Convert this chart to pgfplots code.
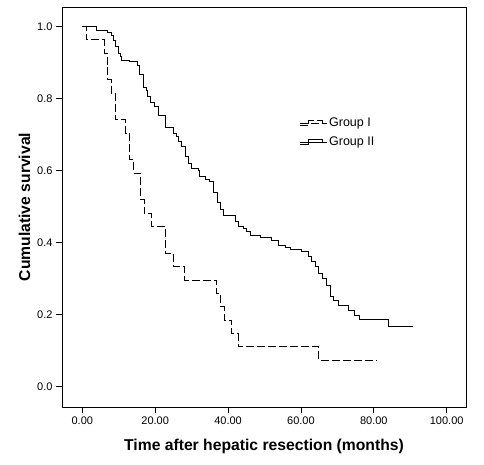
\documentclass[border=0pt]{standalone}
\usepackage{pgfplots}
\pgfplotsset{compat=1.18}
\usepackage{fontspec}
\setmainfont{Liberation Sans}
\begin{document}
\begin{tikzpicture}
\begin{axis}[
  scale only axis,
  width=404bp, height=400bp,
  xmin=-5.58, xmax=105.3,
  ymin=-0.056, ymax=1.054,
  axis line style={black, line width=0.8bp},
  xtick={0,20,40,60,80,100},
  ytick={0,0.2,0.4,0.6,0.8,1.0},
  tick align=outside,
  xtick pos=bottom, ytick pos=left,
  major tick length=6bp,
  tick style={black, line width=0.8bp},
  /pgf/number format/assume math mode=true,
  xticklabel style={font=\fontsize{11bp}{13bp}\selectfont, /pgf/number format/.cd, fixed, zerofill, precision=2},
  yticklabel style={font=\fontsize{11bp}{13bp}\selectfont, /pgf/number format/.cd, fixed, zerofill, precision=1},
  xlabel={Time after hepatic resection (months)},
  ylabel={Cumulative survival},
  xlabel style={font=\fontsize{15.7bp}{18bp}\selectfont\bfseries, at={(axis description cs:0.5,-0.098)}, anchor=center},
  ylabel style={font=\fontsize{15.7bp}{18bp}\selectfont\bfseries, at={(axis description cs:-0.093,0.5)}, anchor=center},
  legend style={draw=none, fill=none, at={(axis description cs:0.587,0.686)}, anchor=west,
    font=\fontsize{12.5bp}{15bp}\selectfont, row sep=4.5bp, inner sep=0bp},
  legend cell align=left,
  legend image code/.code={\draw[#1] (0bp,-2.5bp) -- (9bp,-2.5bp) -- (9bp,2.5bp) -- (23bp,2.5bp) -- (23bp,-0.5bp); \path (0bp,0bp) -- (27bp,0bp);},
  clip=false,
]
\addplot[const plot, black, line width=0.8bp, dash pattern=on 8bp off 3bp] coordinates {
(0,1.0)
(1.0,0.963)
(6.0,0.926)
(6.8,0.889)
(7.0,0.852)
(7.9,0.815)
(9.0,0.741)
(11.9,0.704)
(12.9,0.630)
(14.0,0.593)
(16.0,0.519)
(17.0,0.481)
(19.0,0.444)
(22.9,0.370)
(25.0,0.333)
(28.0,0.296)
(36.9,0.259)
(37.9,0.222)
(38.9,0.185)
(41.0,0.148)
(42.8,0.111)
(64.8,0.074)
(80.6,0.074)
};
\addlegendentry{Group I}
\addplot[const plot, black, line width=0.8bp] coordinates {
(0,1.000)
(3.95,0.990)
(6.9,0.983)
(7.9,0.976)
(8.5,0.962)
(9.0,0.945)
(9.9,0.925)
(10.5,0.916)
(10.8,0.906)
(13.0,0.902)
(15.0,0.893)
(15.8,0.867)
(16.8,0.830)
(17.5,0.823)
(17.9,0.807)
(18.8,0.790)
(19.9,0.777)
(20.9,0.754)
(22.9,0.719)
(25.0,0.703)
(25.7,0.694)
(26.4,0.680)
(27.3,0.666)
(28.2,0.640)
(29.0,0.620)
(30.0,0.607)
(31.8,0.601)
(32.2,0.585)
(33.9,0.575)
(34.8,0.569)
(36.0,0.540)
(37.0,0.513)
(37.9,0.492)
(38.8,0.475)
(41.9,0.458)
(42.8,0.446)
(44.2,0.440)
(45.1,0.430)
(46.0,0.421)
(49.0,0.415)
(52.0,0.407)
(53.8,0.393)
(55.6,0.387)
(57.0,0.381)
(60.2,0.375)
(62.0,0.361)
(62.9,0.347)
(63.9,0.333)
(64.8,0.316)
(66.0,0.301)
(66.9,0.282)
(68.0,0.250)
(68.9,0.241)
(70.3,0.227)
(73.0,0.213)
(74.8,0.199)
(76.0,0.188)
(84.0,0.168)
(90.8,0.168)
};
\addlegendentry{Group II}
\end{axis}
\path (current axis.south west) ++(-62bp,-58bp) rectangle ([shift={(18bp,7bp)}]current axis.north east);
\end{tikzpicture}
\end{document}
